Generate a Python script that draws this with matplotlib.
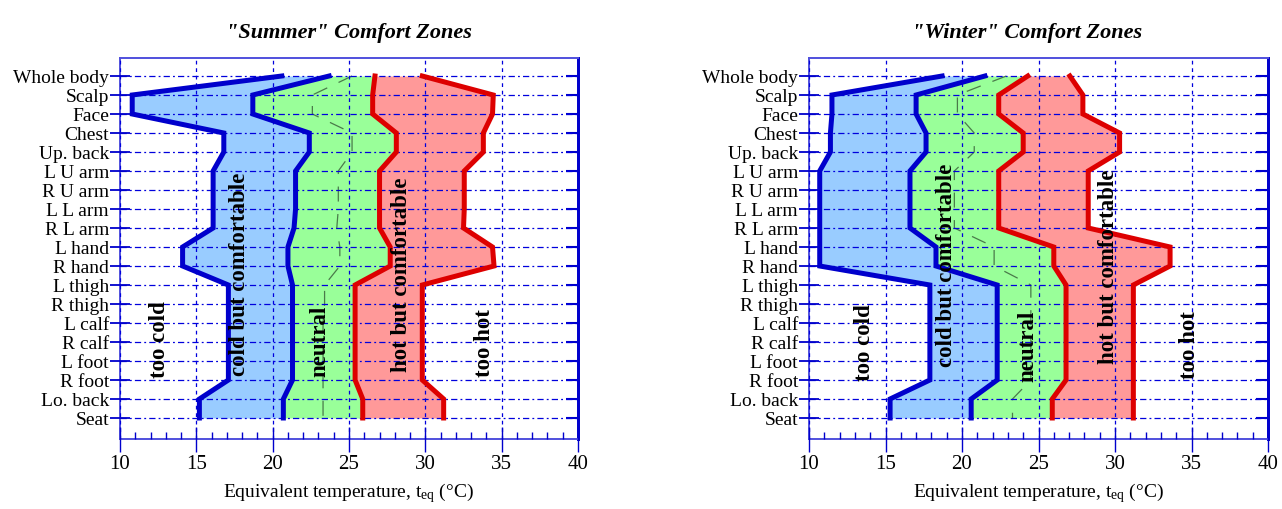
import matplotlib
matplotlib.use("Agg")
import matplotlib.pyplot as plt
from matplotlib.ticker import MultipleLocator
import numpy as np

plt.rcParams['font.family'] = ['Liberation Serif', 'DejaVu Serif']
plt.rcParams['mathtext.fontset'] = 'custom'
plt.rcParams['mathtext.rm'] = 'Liberation Serif'
plt.rcParams['mathtext.it'] = 'Liberation Serif:italic'

# body parts, top to bottom
parts = ['Whole body', 'Scalp', 'Face', 'Chest', 'Up. back', 'L U arm', 'R U arm',
         'L L arm', 'R L arm', 'L hand', 'R hand', 'L thigh', 'R thigh', 'L calf',
         'R calf', 'L foot', 'R foot', 'Lo. back', 'Seat']

# zone boundaries (deg C)
summer_cold = [20.6, 10.8, 10.8, 16.8, 16.8, 16.1, 16.1, 16.1, 16.1, 14.1, 14.1,
               17.1, 17.1, 17.1, 17.1, 17.1, 17.1, 15.2, 15.2]
summer_cool = [23.7, 18.7, 18.7, 22.4, 22.4, 21.5, 21.5, 21.5, 21.4, 21.0, 21.0,
               21.3, 21.3, 21.3, 21.3, 21.3, 21.3, 20.7, 20.7]
summer_warm = [26.7, 26.55, 26.55, 28.1, 28.1, 27.0, 27.0, 27.0, 27.0, 27.7, 27.7,
               25.4, 25.4, 25.4, 25.4, 25.4, 25.4, 25.9, 25.9]
summer_hot = [29.8, 34.45, 34.4, 33.8, 33.8, 32.55, 32.55, 32.55, 32.5, 34.4, 34.5,
              29.8, 29.8, 29.8, 29.8, 29.8, 29.8, 31.2, 31.2]
summer_mid = [25.2, 22.6, 22.6, 25.2, 25.2, 24.3, 24.3, 24.3, 24.2, 24.4, 24.4,
              23.4, 23.4, 23.3, 23.3, 23.3, 23.3, 23.3, 23.3]

winter_cold = [18.7, 11.5, 11.5, 11.4, 11.4, 10.7, 10.7, 10.7, 10.7, 10.7, 10.7,
               17.9, 17.9, 17.9, 17.9, 17.9, 17.9, 15.3, 15.3]
winter_cool = [21.5, 17.0, 17.0, 17.65, 17.65, 16.6, 16.6, 16.6, 16.6, 18.3, 18.3,
               22.3, 22.3, 22.3, 22.3, 22.3, 22.3, 20.6, 20.6]
winter_warm = [24.3, 22.4, 22.4, 24.0, 24.0, 22.4, 22.4, 22.4, 22.4, 26.0, 26.0,
               26.8, 26.8, 26.8, 26.8, 26.8, 26.8, 25.9, 25.9]
winter_hot = [27.05, 27.9, 27.9, 30.3, 30.3, 28.25, 28.25, 28.25, 28.25, 33.6, 33.6,
              31.2, 31.2, 31.2, 31.2, 31.2, 31.2, 31.2, 31.2]
winter_mid = [22.9, 19.7, 19.7, 20.8, 20.8, 19.5, 19.5, 19.5, 19.5, 22.1, 22.1,
              24.5, 24.5, 24.5, 24.5, 24.5, 24.5, 23.3, 23.3]

zone_names = ['too cold', 'cold but comfortable', 'neutral', 'hot but comfortable', 'too hot']
# label positions (temperature, row)
summer_label_pos = [(12.6, 13.8), (17.85, 10.4), (23.1, 13.9), (28.45, 10.4), (33.9, 14.0)]
winter_label_pos = [(13.6, 14.0), (19.0, 9.9), (24.3, 14.2), (29.55, 10.0), (34.9, 14.1)]

BLUE = '#0000CC'
RED = '#DD0000'
GRID = '#0000DD'
SPINE = '#5050DD'


def draw_panel(ax, cold, cool, warm, hot, mid, label_pos, title, title_x):
    y = np.arange(len(parts))
    ax.fill_betweenx(y, cold, cool, color='#99CCFF', lw=0, zorder=1)
    ax.fill_betweenx(y, cool, warm, color='#99FF99', lw=0, zorder=1)
    ax.fill_betweenx(y, warm, hot, color='#FF9999', lw=0, zorder=1)
    ax.plot(mid, y, color='#4a7a4a', lw=0.9, dashes=(12, 10), zorder=2)
    for line, c in [(cold, BLUE), (cool, BLUE), (warm, RED), (hot, RED)]:
        ax.plot(line, y, color=c, lw=3.6, solid_joinstyle='miter', zorder=3)

    for name, (tx, ty) in zip(zone_names, label_pos):
        ax.text(tx, ty, name, rotation=90, ha='center', va='center',
                fontsize=16.5, fontweight='bold', zorder=4)

    ax.set_xlim(10, 40)
    ax.set_ylim(18 + 21 / 19, -18 / 19)
    ax.set_yticks(y)
    ax.set_yticklabels(parts, fontsize=14)
    ax.xaxis.set_major_locator(MultipleLocator(5))
    ax.xaxis.set_minor_locator(MultipleLocator(1))
    ax.tick_params(axis='x', which='major', direction='inout', length=18, width=1,
                   color=BLUE, labelsize=15, pad=2)
    ax.tick_params(axis='x', which='minor', direction='in', length=5, width=1, color=BLUE)
    ax.tick_params(axis='y', direction='inout', length=14, width=1.3, color=BLUE, pad=1)

    ax.set_axisbelow(False)
    ax.grid(axis='x', which='major', color=GRID, lw=0.9, linestyle=(0, (3, 3)))
    ax.grid(axis='y', color=GRID, lw=0.9, linestyle=(0, (5, 2.5, 1.5, 2.5)))

    for s in ['left', 'top', 'bottom']:
        ax.spines[s].set_color(SPINE)
        ax.spines[s].set_linewidth(1.4)
    ax.spines['right'].set_color(BLUE)
    ax.spines['right'].set_linewidth(2)

    sec = ax.secondary_yaxis('right')
    sec.set_yticks(y)
    sec.tick_params(direction='in', length=9, width=1.5, color=BLUE, labelright=False)
    sec.spines['right'].set_color(BLUE)
    sec.spines['right'].set_linewidth(2)

    ax.set_xlabel(r'Equivalent temperature, t$_{\mathrm{eq}}$ (°C)', fontsize=14, labelpad=5)
    ax.set_title(title, fontsize=16, fontweight='bold', fontstyle='italic', x=title_x, pad=15)


fig = plt.figure(figsize=(12.82, 5.10), dpi=100)
ax1 = fig.add_axes([120 / 1282, 70 / 510, 458 / 1282, 381 / 510])
ax2 = fig.add_axes([809 / 1282, 70 / 510, 459 / 1282, 381 / 510])

draw_panel(ax1, summer_cold, summer_cool, summer_warm, summer_hot, summer_mid,
           summer_label_pos, '"Summer" Comfort Zones', 0.5)
draw_panel(ax2, winter_cold, winter_cool, winter_warm, winter_hot, winter_mid,
           winter_label_pos, '"Winter" Comfort Zones', 0.475)

fig.savefig('out.png', dpi=100)
